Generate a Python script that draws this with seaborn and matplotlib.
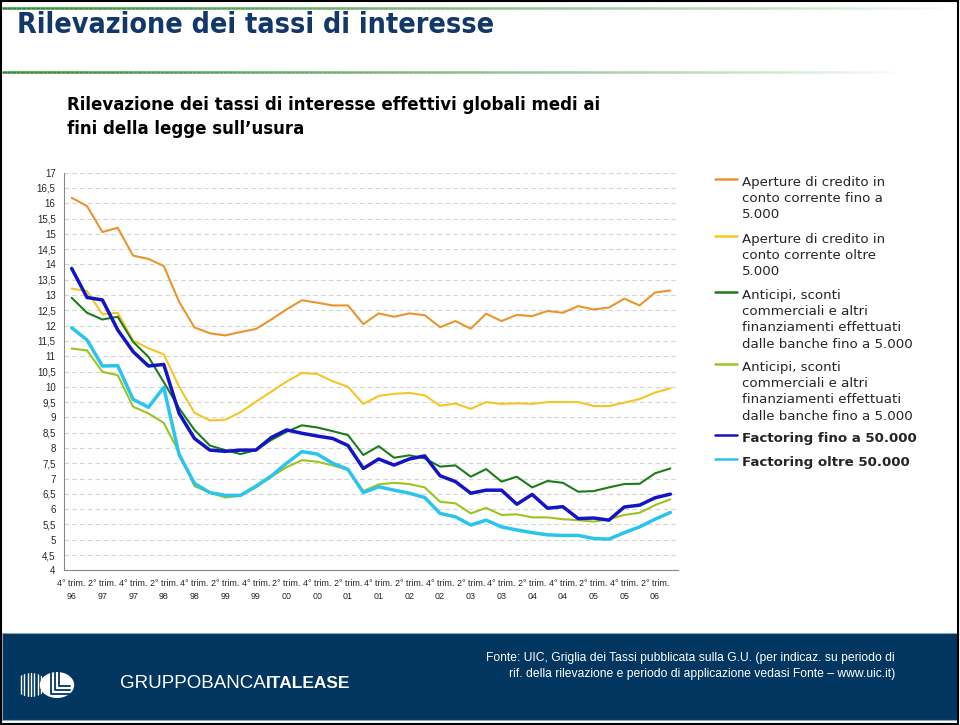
import numpy as np
import pandas as pd
import matplotlib
matplotlib.use('Agg')
import matplotlib.pyplot as plt
import seaborn as sns
from matplotlib.lines import Line2D
from matplotlib.patches import Rectangle, Circle
from matplotlib.collections import LineCollection

# tick labels (one every two quarters, 4Q96 .. 3Q06)
tick_labels = ['4° trim.\n96', '2° trim.\n97', '4° trim.\n97', '2° trim.\n98', '4° trim.\n98',
               '2° trim.\n99', '4° trim.\n99', '2° trim.\n00', '4° trim.\n00', '2° trim.\n01',
               '4° trim.\n01', '2° trim.\n02', '4° trim.\n02', '2° trim.\n03', '4° trim.\n03',
               '2° trim.\n04', '4° trim.\n04', '2° trim.\n05', '4° trim.\n05', '2° trim.\n06']
n_quarters = 40

aperture_fino = [16.18, 15.91, 15.06, 15.20, 14.29, 14.18, 13.95, 12.78, 11.94, 11.75,
                 11.68, 11.79, 11.89, 12.20, 12.53, 12.83, 12.75, 12.66, 12.66, 12.05,
                 12.40, 12.29, 12.40, 12.34, 11.95, 12.15, 11.90, 12.39, 12.15, 12.35,
                 12.31, 12.48, 12.42, 12.64, 12.53, 12.59, 12.88, 12.66, 13.08, 13.15]
aperture_oltre = [13.21, 13.13, 12.37, 12.42, 11.51, 11.26, 11.06, 10.00, 9.15, 8.90,
                  8.92, 9.17, 9.51, 9.84, 10.17, 10.45, 10.42, 10.18, 10.00, 9.44,
                  9.70, 9.77, 9.80, 9.72, 9.38, 9.45, 9.28, 9.50, 9.44, 9.46,
                  9.44, 9.50, 9.50, 9.50, 9.37, 9.37, 9.48, 9.60, 9.81, 9.95]
anticipi_1 = [12.91, 12.42, 12.20, 12.29, 11.47, 10.98, 10.15, 9.30, 8.59, 8.08,
              7.93, 7.80, 7.93, 8.26, 8.53, 8.74, 8.67, 8.55, 8.42, 7.77,
              8.06, 7.68, 7.76, 7.66, 7.39, 7.43, 7.06, 7.31, 6.90, 7.06,
              6.71, 6.92, 6.86, 6.57, 6.59, 6.71, 6.82, 6.83, 7.17, 7.33]
anticipi_2 = [11.25, 11.19, 10.49, 10.38, 9.35, 9.13, 8.82, 7.85, 6.75, 6.54,
              6.38, 6.44, 6.71, 7.06, 7.37, 7.60, 7.55, 7.43, 7.28, 6.59,
              6.81, 6.86, 6.82, 6.71, 6.24, 6.19, 5.86, 6.04, 5.81, 5.83,
              5.73, 5.73, 5.67, 5.64, 5.59, 5.67, 5.81, 5.88, 6.13, 6.32]
factoring_fino = [13.87, 12.92, 12.84, 11.86, 11.15, 10.68, 10.73, 9.13, 8.31, 7.93,
                  7.89, 7.93, 7.93, 8.34, 8.59, 8.48, 8.39, 8.31, 8.08, 7.33,
                  7.64, 7.44, 7.64, 7.74, 7.09, 6.90, 6.52, 6.62, 6.62, 6.16,
                  6.48, 6.03, 6.08, 5.69, 5.71, 5.64, 6.07, 6.13, 6.37, 6.49]
factoring_oltre = [11.93, 11.53, 10.68, 10.69, 9.59, 9.33, 9.98, 7.78, 6.84, 6.54,
                   6.45, 6.45, 6.75, 7.08, 7.50, 7.88, 7.80, 7.50, 7.30, 6.54,
                   6.73, 6.62, 6.52, 6.38, 5.86, 5.75, 5.48, 5.64, 5.42, 5.32,
                   5.23, 5.16, 5.14, 5.14, 5.04, 5.02, 5.23, 5.42, 5.67, 5.89]

series_names = ['Aperture di credito in\nconto corrente fino a\n5.000',
                'Aperture di credito in\nconto corrente oltre\n5.000',
                'Anticipi, sconti\ncommerciali e altri\nfinanziamenti effettuati\ndalle banche fino a 5.000',
                'Anticipi, sconti\ncommerciali e altri\nfinanziamenti effettuati\ndalle banche fino a 5.000',
                'Factoring fino a 50.000',
                'Factoring oltre 50.000']
series_values = [aperture_fino, aperture_oltre, anticipi_1, anticipi_2, factoring_fino, factoring_oltre]
colors = ['#E8952C', '#F4C624', '#1C7C1C', '#9DC41E', '#1414C4', '#2AC4EC']
widths = [1.5, 1.5, 1.5, 1.5, 2.5, 2.5]

sns.set_style('white')
plt.rcParams['font.family'] = ['DejaVu Sans']

W, H = 960, 725
fig = plt.figure(figsize=(W / 100, H / 100), dpi=100)


def fx(x):
    return x / W


def fy(y):
    return 1 - y / H


# plot area
ax = fig.add_axes([fx(64), fy(570.3), fx(614), (570.3 - 172.7) / H])
for vals, c, lw in zip(series_values, colors, widths):
    df = pd.DataFrame({'q': np.arange(n_quarters), 'tasso': vals})
    sns.lineplot(data=df, x='q', y='tasso', color=c, linewidth=lw, ax=ax)

ax.set_xlim(-0.5, n_quarters - 0.5)
ax.set_ylim(4, 17)
yt = np.arange(4, 17.01, 0.5)
ax.set_yticks(yt)
ax.set_yticklabels([f'{v:g}'.replace('.', ',') for v in yt], fontsize=7,
                   family='Liberation Sans')
ax.set_xticks(np.arange(0, n_quarters, 2))
ax.set_xticklabels(tick_labels, fontsize=6.4, family='Liberation Sans', linespacing=1.6)
ax.set_xticks(np.arange(-0.5, n_quarters, 1), minor=True)
ax.tick_params(axis='x', which='major', length=0, pad=6)
ax.tick_params(axis='x', which='minor', length=4, color='#888888', width=0.8)
ax.tick_params(axis='y', length=3, color='#888888', width=0.8, pad=3)
ax.set_xlabel('')
ax.set_ylabel('')
ax.yaxis.grid(True, color='#d4d4d4', linestyle=(0, (4, 3)), linewidth=0.8)
ax.xaxis.grid(False)
ax.set_axisbelow(True)
for s in ['top', 'right']:
    ax.spines[s].set_visible(False)
for s in ['left', 'bottom']:
    ax.spines[s].set_color('#888888')
    ax.spines[s].set_linewidth(0.8)

# legend drawn by hand to keep the handle on the first text line
leg_y = [183, 240, 296, 368, 439, 463]
for i, (name, c, y) in enumerate(zip(series_names, colors, leg_y)):
    fig.add_artist(Line2D([fx(715), fx(737)], [fy(y - 4), fy(y - 4)], color=c,
                          linewidth=1.8, transform=fig.transFigure))
    fig.text(fx(742), fy(y - 7), name, fontsize=9.6, va='top', ha='left',
             linespacing=1.32, weight='bold' if i >= 4 else 'normal')

# title area
fig.text(fx(17), fy(25), 'Rilevazione dei tassi di interesse', fontsize=20.5,
         weight='bold', fontstretch='condensed', color='#12386A', va='center', ha='left')
fig.text(fx(67), fy(117), 'Rilevazione dei tassi di interesse effettivi globali medi ai\nfini della legge sull\u2019usura',
         fontsize=13.3, weight='bold', fontstretch='condensed', color='black', va='center',
         ha='left', linespacing=1.45)


def fading_line(y, x0, x1, color):
    xs = np.linspace(x0, x1, 200)
    segs = [[(fx(a), fy(y)), (fx(b), fy(y))] for a, b in zip(xs[:-1], xs[1:])]
    rgb = matplotlib.colors.to_rgb(color)
    alphas = np.linspace(1, 0, len(segs)) ** 0.8
    lc = LineCollection(segs, colors=[(*rgb, a) for a in alphas], linewidths=1.8,
                        transform=fig.transFigure)
    fig.add_artist(lc)


fading_line(8, 2, 950, '#2E8B2E')
fading_line(72, 2, 900, '#2E8B2E')

# footer band
navy = '#00365F'
fig.add_artist(Rectangle((fx(2), fy(720)), fx(956), 87 / H, facecolor=navy,
                         edgecolor='#8AA4BC', linewidth=0.8, transform=fig.transFigure))
fig.text(fx(895), fy(658), 'Fonte: UIC, Griglia dei Tassi pubblicata sulla G.U. (per indicaz. su periodo di',
         fontsize=8.7, color='white', ha='right', va='center', family='Liberation Sans')
fig.text(fx(895), fy(674), 'rif. della rilevazione e periodo di applicazione vedasi Fonte \u2013 www.uic.it)',
         fontsize=8.7, color='white', ha='right', va='center', family='Liberation Sans')

# logo
cx, cy, r = 31, 685, 12
circ1 = Circle((fx(cx), fy(cy)), r / H, transform=fig.transFigure, facecolor='none', edgecolor='none')
fig.add_artist(circ1)
for k in range(-3, 4):
    ln = Line2D([fx(cx + k * 3.4)] * 2, [fy(cy - r), fy(cy + r)], color='white',
                linewidth=1.0, transform=fig.transFigure)
    ln.set_clip_path(circ1)
    fig.add_artist(ln)
fig.add_artist(Circle((fx(57), fy(685)), 13 / H, transform=fig.transFigure,
                      facecolor='white', edgecolor='none'))
for off in [0, 4, 8]:
    fig.add_artist(Line2D([fx(51 + off), fx(51 + off), fx(70)],
                          [fy(672), fy(694 - off), fy(694 - off)], color=navy,
                          linewidth=1.3, transform=fig.transFigure))
t1 = fig.text(fx(120), fy(684), 'GRUPPOBANCA', fontsize=13.5, color='white', ha='left',
              va='center', family='Liberation Sans')
fig.canvas.draw()
x_end = t1.get_window_extent().x1
fig.text(x_end / W, fy(684), 'ITALEASE', fontsize=12.5, color='white', ha='left',
         va='center', weight='bold', family='Liberation Sans')

# frame
fig.add_artist(Rectangle((0.001, 0.001), 0.997, 0.997, facecolor='none', edgecolor='black',
                         linewidth=1.5, transform=fig.transFigure))

fig.savefig('out.png', dpi=100)
